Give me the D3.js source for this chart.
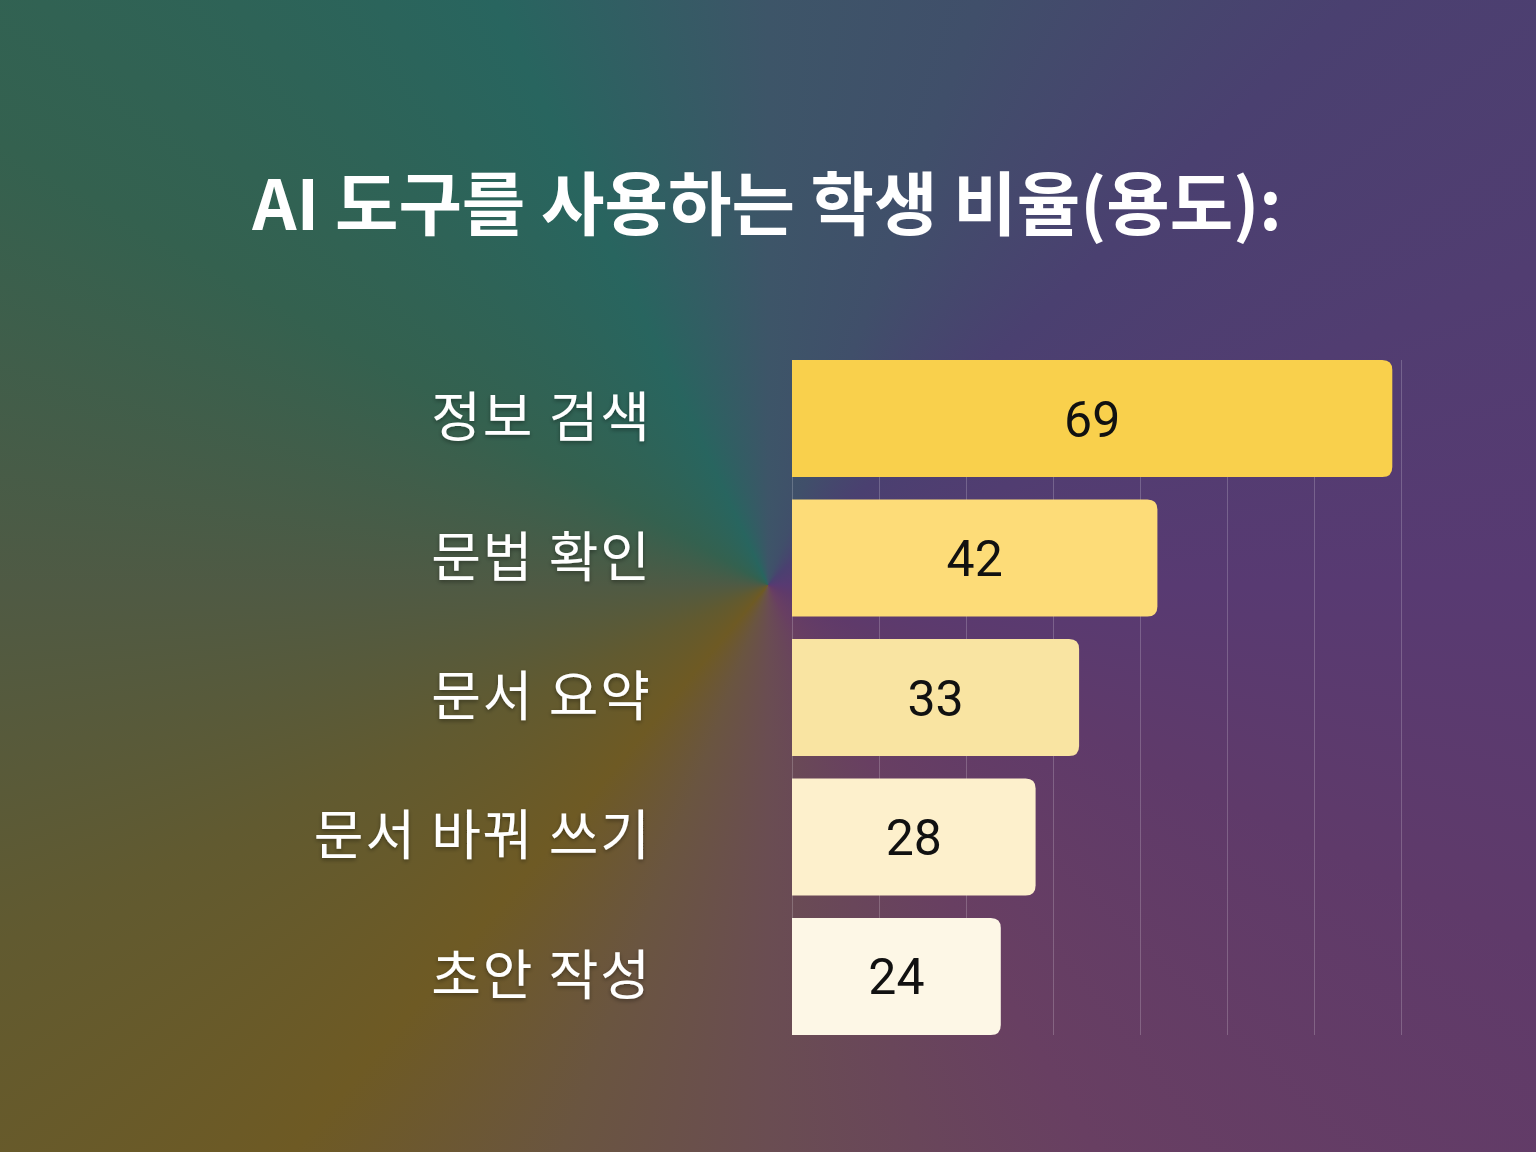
<!DOCTYPE html>
<html>
<head>
<meta charset="utf-8">
<script src="https://cdn.jsdelivr.net/npm/d3@7"></script>
<style>
  html, body { margin: 0; padding: 0; }
  body { width: 1536px; height: 1152px; overflow: hidden; }
  #chart {
    width: 1536px; height: 1152px; position: relative;
    background: conic-gradient(from 0deg at 768px 585px,
      #3d5568 0deg, #404f6a 20deg, #4a4070 45deg, #583a72 90deg,
      #5f3a6a 115deg, #683f62 150deg, #6a4d52 180deg, #6a5540 200deg,
      #6e5a24 220deg, #615a30 245deg, #4f5a44 270deg, #34614f 300deg,
      #28655f 335deg, #3d5568 360deg);
  }
</style>
</head>
<body>
<div id="chart"></div>
<script>
// data
const title = 'AI 도구를 사용하는 학생 비율(용도):'
const categories = ['정보 검색', '문법 확인', '문서 요약', '문서 바꿔 쓰기', '초안 작성']
const values = [69, 42, 33, 28, 24]
const barColors = ['#f9d04c', '#fddc78', '#f9e4a2', '#fdf0cc', '#fdf7e6']
const ticks = [0, 10, 20, 30, 40, 50, 60, 70]

const data = categories.map((c, i) => ({name: c, value: values[i], color: barColors[i]}))

const width = 1536, height = 1152
const svg = d3.select('#chart').append('svg')
  .attr('width', width)
  .attr('height', height)
  .style('position', 'absolute')
  .style('left', 0).style('top', 0)

const defs = svg.append('defs')
const shadow = defs.append('filter').attr('id', 'tshadow')
  .attr('x', '-10%').attr('y', '-20%').attr('width', '120%').attr('height', '140%')
shadow.append('feDropShadow')
  .attr('dx', 0).attr('dy', 2).attr('stdDeviation', 2)
  .attr('flood-color', '#000').attr('flood-opacity', 0.35)

// title
svg.append('text')
  .attr('x', 767)
  .attr('y', 230)
  .attr('text-anchor', 'middle')
  .attr('font-family', '"Noto Sans CJK KR", "Noto Sans", sans-serif')
  .attr('font-weight', 700)
  .attr('font-size', 69)
  .attr('fill', '#ffffff')
  .text(title)

// scales
const x = d3.scaleLinear()
  .domain([0, 70])
  .range([792, 1401])

const y = d3.scaleBand()
  .domain(categories)
  .range([360, 1035])
  .paddingInner(0.161)
  .paddingOuter(0)

// grid lines
svg.append('g')
  .selectAll('line')
  .data(ticks)
  .enter().append('line')
  .attr('x1', d => x(d) + 0.5)
  .attr('x2', d => x(d) + 0.5)
  .attr('y1', y.range()[0])
  .attr('y2', y.range()[1])
  .attr('stroke', 'rgba(255,255,255,0.2)')
  .attr('stroke-width', 1)

// bars, square on the left, rounded on the right
const r = 10
function barPath(d) {
  const x0 = x(0), x1 = x(d.value), y0 = y(d.name), y1 = y0 + y.bandwidth()
  return `M${x0},${y0} H${x1 - r} Q${x1},${y0} ${x1},${y0 + r} V${y1 - r} Q${x1},${y1} ${x1 - r},${y1} H${x0} Z`
}

svg.append('g')
  .selectAll('path')
  .data(data)
  .enter().append('path')
  .attr('d', barPath)
  .attr('fill', d => d.color)

// value labels
svg.append('g')
  .selectAll('text')
  .data(data)
  .enter().append('text')
  .attr('x', d => (x(0) + x(d.value)) / 2)
  .attr('y', d => y(d.name) + y.bandwidth() / 2 + 1)
  .attr('text-anchor', 'middle')
  .attr('dominant-baseline', 'central')
  .attr('font-family', 'Roboto, "Liberation Sans", sans-serif')
  .attr('font-size', 50)
  .attr('fill', '#111111')
  .text(d => d.value)

// category labels
svg.append('g')
  .selectAll('text')
  .data(data)
  .enter().append('text')
  .attr('x', 652)
  .attr('y', d => y(d.name) + y.bandwidth() / 2 - 5)
  .attr('text-anchor', 'end')
  .attr('dominant-baseline', 'central')
  .attr('font-family', '"Noto Sans CJK KR", "Noto Sans", sans-serif')
  .attr('font-size', 54)
  .attr('letter-spacing', 2)
  .attr('fill', '#ffffff')
  .attr('filter', 'url(#tshadow)')
  .text(d => d.name)
</script>
</body>
</html>
